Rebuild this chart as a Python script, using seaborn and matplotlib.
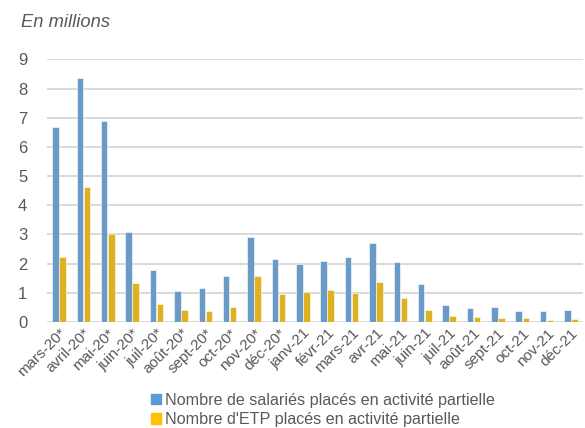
import pandas as pd
import matplotlib
matplotlib.use("Agg")
import matplotlib.pyplot as plt
import seaborn as sb

months = ["mars-20*", "avril-20*", "mai-20*", "juin-20*", "juil-20*", "août-20*",
          "sept-20*", "oct-20*", "nov-20*", "déc-20*", "janv-21", "févr-21",
          "mars-21", "avr-21", "mai-21", "juin-21", "juil-21", "août-21",
          "sept-21", "oct-21", "nov-21", "déc-21"]
salaries = [6.7, 8.37, 6.88, 3.09, 1.78, 1.05, 1.15, 1.58, 2.9, 2.17, 2.0, 2.09,
            2.23, 2.71, 2.04, 1.3, 0.58, 0.49, 0.5, 0.38, 0.36, 0.41]
etp = [2.23, 4.63, 3.03, 1.35, 0.61, 0.41, 0.38, 0.5, 1.57, 0.94, 1.02, 1.08,
       0.98, 1.36, 0.82, 0.4, 0.2, 0.16, 0.14, 0.13, 0.08, 0.1]
series = ["Nombre de salariés placés en activité partielle",
          "Nombre d'ETP placés en activité partielle"]
colors = ["#5B9BD5", "#FFC000"]

df = pd.concat([
    pd.DataFrame({"mois": months, "valeur": salaries, "serie": series[0]}),
    pd.DataFrame({"mois": months, "valeur": etp, "serie": series[1]}),
])

sb.set_style("white")
plt.rcParams["font.family"] = ["Liberation Sans", "DejaVu Sans"]
grey = "#595959"

fig = plt.figure(figsize=(5.85, 4.28), dpi=100)
ax = fig.add_axes([0.080, 0.248, 0.917, 0.613])
sb.barplot(data=df, x="mois", y="valeur", hue="serie", palette=colors,
           width=0.58, gap=0.08, edgecolor="white", linewidth=0.4, ax=ax, legend=False)

ax.set_ylim(0, 9)
ax.set_yticks(range(0, 10))
ax.set_xlim(-0.5, len(months) - 0.5)
ax.yaxis.grid(True, color="#D9D9D9", linewidth=1.4)
ax.set_axisbelow(True)
for s in ax.spines.values():
    s.set_visible(False)
ax.set_xlabel("")
ax.set_ylabel("")
ax.tick_params(axis="y", labelsize=12, colors=grey, length=0, pad=14)
ax.tick_params(axis="x", labelsize=11, colors=grey, length=0, pad=3)
plt.setp(ax.get_xticklabels(), rotation=45, ha="right", rotation_mode="anchor")

fig.text(0.036, 0.948, "En millions", style="italic", fontsize=13.2, color=grey,
         va="center", ha="left")

handles = [plt.Rectangle((0, 0), 1, 1, color=c) for c in colors]
leg = fig.legend(handles, series, loc="center", bbox_to_anchor=(0.552, 0.042),
                 frameon=False, fontsize=11.6, handlelength=0.65, handleheight=0.65,
                 handletextpad=0.25, labelspacing=0.3)
for t in leg.get_texts():
    t.set_color(grey)

fig.savefig("out.png", dpi=100)
